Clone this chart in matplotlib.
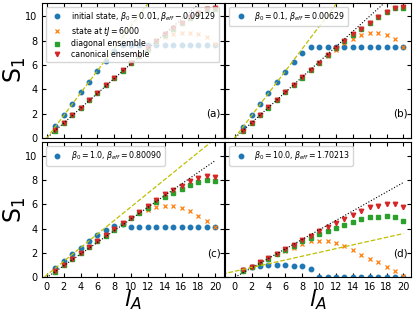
import numpy as np
import matplotlib
matplotlib.use("Agg")
import matplotlib.pyplot as plt

# subsystem sizes
l = np.arange(1, 21)

# panel (a): beta0 = 0.01
blue_a = [0.94, 1.87, 2.81, 3.75, 4.63, 5.51, 6.34, 7.1] + [7.6]*12
orange_a = [0.62, 1.25, 1.87, 2.48, 3.1, 3.72, 4.33, 4.95, 5.55, 6.15,
            6.7, 7.25, 7.85, 8.25, 8.5, 8.6, 8.6, 8.5, 8.25, 7.75]
green_a = [0.6, 1.23, 1.85, 2.46, 3.08, 3.7, 4.31, 4.93, 5.53, 6.13,
           6.73, 7.33, 7.92, 8.47, 8.97, 9.42, 9.86, 10.25, 10.55, 10.6]
red_a = [0.62, 1.25, 1.87, 2.48, 3.1, 3.72, 4.33, 4.95, 5.55, 6.15,
         6.75, 7.35, 7.95, 8.5, 9.0, 9.45, 9.9, 10.3, 10.6, 10.65]

# panel (b): beta0 = 0.1
blue_b = [0.93, 1.87, 2.8, 3.68, 4.56, 5.38, 6.2, 6.97] + [7.47]*12
orange_b = [0.6, 1.25, 1.88, 2.5, 3.12, 3.75, 4.37, 4.97, 5.57, 6.17,
            6.75, 7.2, 7.8, 8.1, 8.45, 8.6, 8.6, 8.45, 8.1, 7.5]
green_b = [0.58, 1.23, 1.86, 2.48, 3.1, 3.73, 4.35, 4.95, 5.55, 6.15,
           6.78, 7.4, 7.95, 8.47, 8.95, 9.42, 9.92, 10.35, 10.66, 10.68]
red_b = [0.6, 1.25, 1.88, 2.5, 3.12, 3.75, 4.37, 4.97, 5.57, 6.17,
         6.8, 7.42, 7.97, 8.5, 8.97, 9.45, 9.95, 10.38, 10.7, 10.72]

# panel (c): beta0 = 1.0
blue_c = [0.8, 1.35, 1.9, 2.45, 2.95, 3.45, 3.87, 4.25, 4.4] + [4.15]*11
orange_c = [0.5, 1.02, 1.52, 2.03, 2.52, 3.0, 3.48, 3.95, 4.4, 4.85,
            5.25, 5.5, 5.75, 5.85, 5.85, 5.72, 5.45, 5.08, 4.65, 4.18]
green_c = [0.47, 0.98, 1.48, 1.98, 2.47, 2.95, 3.43, 3.9, 4.4, 4.85,
           5.3, 5.72, 6.2, 6.6, 6.97, 7.3, 7.62, 7.85, 7.97, 7.95]
red_c = [0.5, 1.02, 1.52, 2.03, 2.52, 3.0, 3.48, 3.95, 4.45, 4.92,
         5.4, 5.85, 6.4, 6.85, 7.2, 7.55, 7.9, 8.15, 8.3, 8.22]

# panel (d): beta0 = 10.0
blue_d = [0.62, 0.85, 0.95, 1.0, 1.0, 1.0, 0.97, 0.9, 0.7] + [0.05]*11
orange_d = [0.6, 0.88, 1.23, 1.59, 1.9, 2.2, 2.45, 2.74, 2.95, 3.02,
            2.98, 2.85, 2.55, 2.25, 1.85, 1.55, 1.28, 0.88, 0.55, 0.14]
green_d = [0.55, 0.85, 1.2, 1.55, 1.9, 2.25, 2.6, 2.95, 3.22, 3.55,
           3.8, 4.05, 4.3, 4.55, 4.8, 4.93, 5.0, 5.03, 4.95, 4.6]
red_d = [0.6, 0.88, 1.23, 1.59, 1.95, 2.3, 2.68, 3.05, 3.42, 3.8,
         4.1, 4.5, 4.8, 5.15, 5.45, 5.75, 5.9, 6.0, 6.0, 5.75]

# straight reference lines: (slope, intercept)
black_lines = [(0.61, 0.0), (0.625, 0.0), (0.48, 0.0), (0.39, 0.0)]
yellow_lines = [(0.92, 0.0), (0.915, 0.0), (0.56, 0.2), (0.155, 0.5)]
line_x = np.array([-1.5, 20])

blue_labels = [r"initial state, $\beta_0=0.01, \beta_{eff}-0.09129$",
               r"$\beta_0=0.1, \beta_{eff}=0.00629$",
               r"$\beta_0=1.0, \beta_{eff}=0.80090$",
               r"$\beta_0=10.0, \beta_{eff}=1.70213$"]
panel_tags = ["(a)", "(b)", "(c)", "(d)"]

blues = [blue_a, blue_b, blue_c, blue_d]
oranges = [orange_a, orange_b, orange_c, orange_d]
greens = [green_a, green_b, green_c, green_d]
reds = [red_a, red_b, red_c, red_d]

fig, axs = plt.subplots(2, 2, figsize=(4.16, 3.12), dpi=100,
                        sharex='col', sharey=True,
                        gridspec_kw=dict(width_ratios=[21.5, 22]))
fig.subplots_adjust(left=0.1017, right=0.988, top=0.991, bottom=0.111,
                    hspace=0.033, wspace=0.01)

ms = 3.2
for i, ax in enumerate(axs.flat):
    ax.plot(l, blues[i], 'o', color='C0', ms=ms, label=blue_labels[i])
    if i == 0:
        ax.plot(l, oranges[i], 'x', color='C1', ms=ms, mew=0.9, label=r"state at $tJ=6000$")
        ax.plot(l, greens[i], 's', color='C2', ms=ms, label="diagonal ensemble")
        ax.plot(l, reds[i], 'v', color='C3', ms=ms, label="canonical ensemble")
    else:
        ax.plot(l, oranges[i], 'x', color='C1', ms=ms, mew=0.9)
        ax.plot(l, greens[i], 's', color='C2', ms=ms)
        ax.plot(l, reds[i], 'v', color='C3', ms=ms)
    a, b = black_lines[i]
    ax.plot(line_x, a*line_x + b, 'k:', lw=0.8)
    a, b = yellow_lines[i]
    ax.plot(line_x, a*line_x + b, '--', color='y', lw=0.9)
    ax.text(0.985, 0.18, panel_tags[i], transform=ax.transAxes,
            ha='right', va='center', fontsize=7.5)
    ax.legend(loc='upper left', fontsize=5.7, labelspacing=0.22,
              handletextpad=0.7)
    ax.tick_params(direction='in', top=True, right=True, labelsize=7, length=3)

axs[0, 0].set_xlim(-0.55, 21.0)
axs[0, 1].set_xlim(-1.1, 20.9)
axs[0, 0].set_ylim(0, 11.1)
axs[1, 0].set_xticks(np.arange(0, 21, 2))
axs[1, 1].set_xticks(np.arange(0, 21, 2))

for ax in axs[:, 0]:
    ax.set_ylabel(r"S$_1$", fontsize=17, labelpad=-2)
for ax in axs[1, :]:
    ax.set_xlabel(r"$l_A$", fontsize=16, labelpad=-3)

fig.savefig("out.png", dpi=100)
